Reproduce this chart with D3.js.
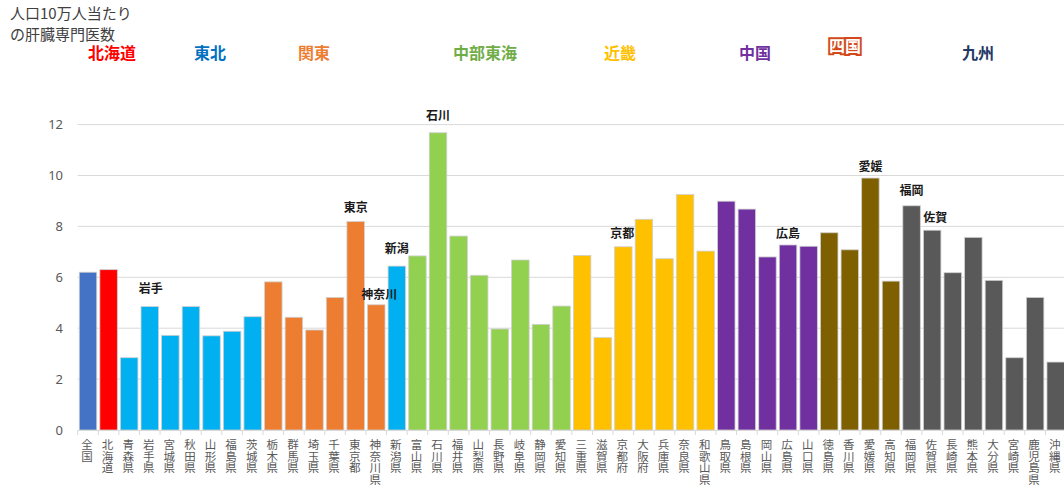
<!DOCTYPE html>
<html><head><meta charset="utf-8">
<script src="https://cdn.jsdelivr.net/npm/d3@7"></script>
<style>
html,body{margin:0;padding:0;background:#fff;}
svg{display:block;font-family:"Noto Sans CJK JP","Noto Sans",sans-serif;}
</style></head>
<body><svg id="c" width="1064" height="490"></svg>
<script>
const categories = ["全国","北海道","青森県","岩手県","宮城県","秋田県","山形県","福島県","茨城県","栃木県","群馬県","埼玉県","千葉県","東京都","神奈川県","新潟県","富山県","石川県","福井県","山梨県","長野県","岐阜県","静岡県","愛知県","三重県","滋賀県","京都府","大阪府","兵庫県","奈良県","和歌山県","鳥取県","島根県","岡山県","広島県","山口県","徳島県","香川県","愛媛県","高知県","福岡県","佐賀県","長崎県","熊本県","大分県","宮崎県","鹿児島県","沖縄県"];
const values = [6.2,6.3,2.84,4.85,3.72,4.85,3.7,3.88,4.45,5.82,4.43,3.93,5.21,8.19,4.92,6.44,6.84,11.68,7.62,6.08,3.97,6.68,4.15,4.87,6.86,3.63,7.2,8.28,6.73,9.25,7.03,8.99,8.68,6.8,7.27,7.22,7.75,7.08,9.9,5.85,8.81,7.85,6.18,7.57,5.88,2.84,5.21,2.67];
const groups = ["全国","北海道","東北","東北","東北","東北","東北","東北","東北","関東","関東","関東","関東","関東","関東","東北","中部東海","中部東海","中部東海","中部東海","中部東海","中部東海","中部東海","中部東海","近畿","近畿","近畿","近畿","近畿","近畿","近畿","中国","中国","中国","中国","中国","四国","四国","四国","四国","九州","九州","九州","九州","九州","九州","九州","九州"];
const yTicks = [0,2,4,6,8,10,12];
const regionNames = ["北海道","東北","関東","中部東海","近畿","中国","四国","九州"];
const barColors = {"全国":"#4472C4","北海道":"#FF0000","東北":"#00B0F0","関東":"#ED7D31","中部東海":"#92D050","近畿":"#FFC000","中国":"#7030A0","四国":"#7F6000","九州":"#595959"};
const regionTextColors = ["#FF0000","#0070C0","#ED7D31","#70AD47","#FFC000","#7030A0","#D24A1C","#1F3864"];
const regionX = [112,210,314,485,620,755,845,978];
const callouts = ["岩手","東京","神奈川","新潟","石川","京都","広島","愛媛","福岡","佐賀"];
const calloutIdx = [3,13,14,15,17,26,34,38,40,41];
const calloutDx = [1,0,3,0,0,-1,0,0,0,3];
const calloutVal = [5.4,8.57,5.13,6.94,12.17,7.54,7.56,10.17,9.23,8.19];

const svg = d3.select("#c");
const x = d3.scaleBand().domain(categories).range([77.7,1066]).paddingInner(0.15).paddingOuter(0.075);
const y = d3.scaleLinear().domain([0,12]).range([430,124.6]);

// title
svg.append("text").attr("x",10).attr("y",19).attr("font-size",15).attr("fill","#404040").text("人口10万人当たり");
svg.append("text").attr("x",10).attr("y",40).attr("font-size",15).attr("fill","#404040").text("の肝臓専門医数");

// gridlines
svg.append("g").selectAll("line").data(yTicks.filter(d=>d>0)).join("line")
  .attr("x1",77.7).attr("x2",1064).attr("y1",d=>y(d)).attr("y2",d=>y(d))
  .attr("stroke","#d9d9d9").attr("stroke-width",1);

// y axis labels
const ya = svg.append("g").attr("transform","translate(77,0)")
  .call(d3.axisLeft(y).tickValues(yTicks).tickSize(0).tickPadding(14));
ya.select(".domain").remove();
ya.selectAll("text").attr("font-size",13).attr("fill","#595959").attr("font-family","'Noto Sans',sans-serif");

// bars
svg.append("g").selectAll("rect").data(categories).join("rect")
  .attr("x",d=>x(d)).attr("width",x.bandwidth())
  .attr("y",(d,i)=>y(values[i])).attr("height",(d,i)=>y(0)-y(values[i]))
  .attr("fill",(d,i)=>barColors[groups[i]])
  .attr("stroke","#d0d0d0").attr("stroke-width",0.8);

// x axis
const xa = svg.append("g").attr("transform","translate(0,430)")
  .call(d3.axisBottom(x).tickSize(0).tickFormat(""));
xa.select(".domain").attr("stroke","#d9d9d9");
const step = x.step();
svg.append("g").selectAll("line").data(d3.range(categories.length+1)).join("line")
  .attr("x1",i=>77.7+i*step).attr("x2",i=>77.7+i*step).attr("y1",430).attr("y2",435)
  .attr("stroke","#d9d9d9");
svg.append("g").selectAll("text").data(categories).join("text")
  .attr("x",d=>x(d)+x.bandwidth()/2-1).attr("y",439)
  .attr("font-size",11.5).attr("fill","#595959")
  .style("writing-mode","vertical-rl").style("text-orientation","upright")
  .text(d=>d);

// region labels
svg.append("g").selectAll("text").data(regionNames).join("text")
  .attr("x",(d,i)=>regionX[i]).attr("y",(d,i)=>d==="四国"?52:59)
  .attr("text-anchor","middle").attr("font-size",16).attr("font-weight","bold")
  .attr("fill",(d,i)=>d==="四国"?"#fff":regionTextColors[i])
  .attr("stroke",(d,i)=>d==="四国"?regionTextColors[i]:"none")
  .attr("stroke-width",(d,i)=>d==="四国"?4:0)
  .attr("paint-order","stroke")
  .text(d=>d);

// callouts
svg.append("g").selectAll("text").data(callouts).join("text")
  .attr("x",(d,i)=>x(categories[calloutIdx[i]])+x.bandwidth()/2+calloutDx[i])
  .attr("y",(d,i)=>y(calloutVal[i]))
  .attr("text-anchor","middle").attr("font-size",12).attr("font-weight","bold").attr("fill","#1a1a1a")
  .text(d=>d);
</script></body></html>
